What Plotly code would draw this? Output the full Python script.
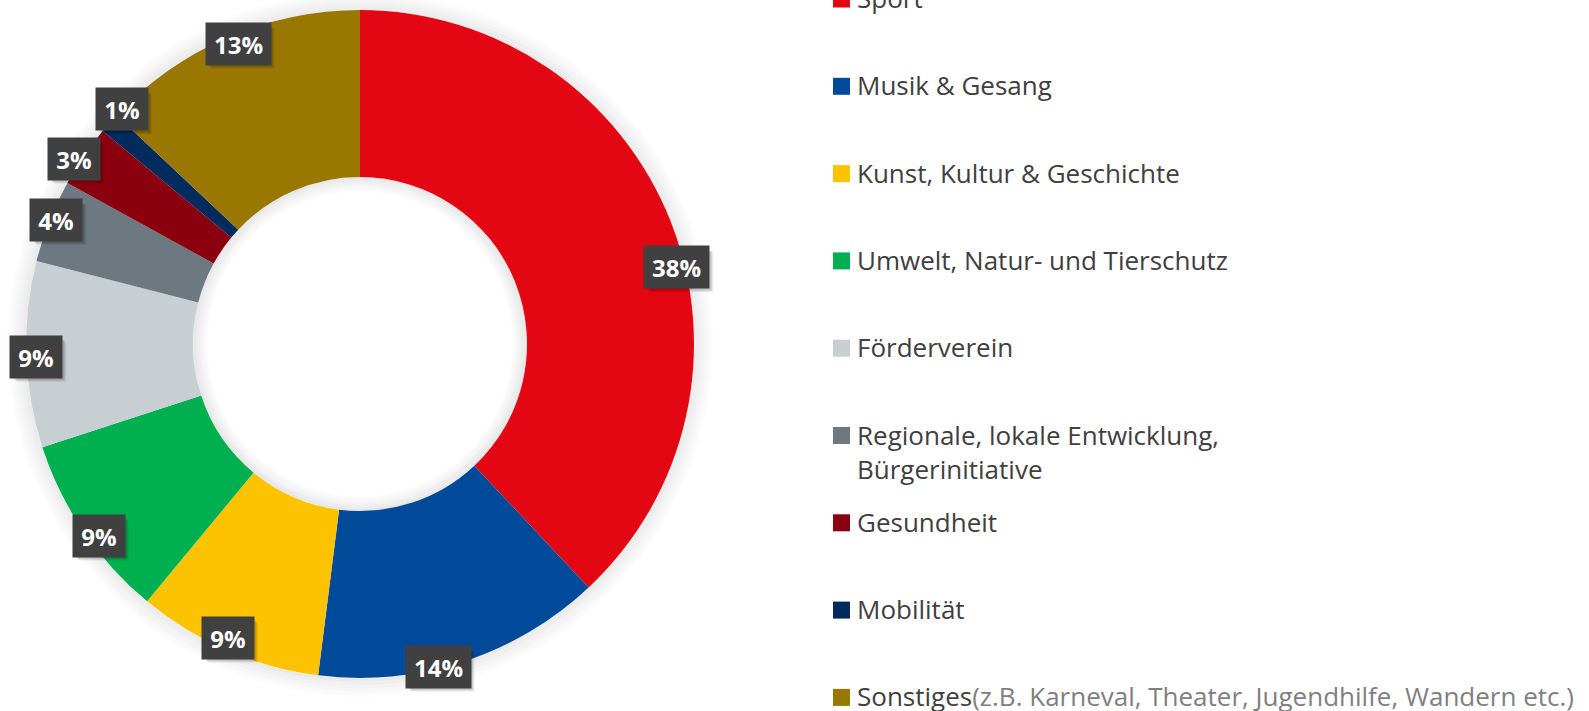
import math
import plotly.graph_objects as go

# ---------------- data ----------------
categories = ["Sport", "Musik & Gesang", "Kunst, Kultur & Geschichte",
              "Umwelt, Natur- und Tierschutz", "Förderverein",
              "Regionale, lokale Entwicklung, Bürgerinitiative",
              "Gesundheit", "Mobilität", "Sonstiges"]
legend_labels = ["Sport", "Musik & Gesang", "Kunst, Kultur & Geschichte",
                 "Umwelt, Natur- und Tierschutz", "Förderverein",
                 "Regionale, lokale Entwicklung,<br>Bürgerinitiative",
                 "Gesundheit", "Mobilität",
                 "Sonstiges<span style='color:#7f7f7f'>(z.B. Karneval, Theater, Jugendhilfe, Wandern etc.)</span>"]
values = [38, 14, 9, 9, 9, 4, 3, 1, 13]
colors = ["#E30613", "#004A99", "#FDC300", "#00B050", "#C8CFD3",
          "#6D7880", "#8B000E", "#002B5C", "#9A7700"]

# label placement tweaks (styling only): angular nudge in degrees, radius factor
label_nudge = [8, 4.4, 0.8, -2.1, -0.5, 0.6, -1.3, 3.2, 1.3]
label_radius = [0.976, 0.994, 0.964, 0.970, 0.970, 0.982, 1.021, 1.0, 0.970]

# ---------------- geometry ----------------
W, H = 1589, 711
PH = 668
CX, CY = 360, 344            # pixel coordinates of ring centre
MT = CY - PH // 2
MB = H - MT - PH
R = PH / 2
HOLE = 0.5


def paper(x, y):
    """pixel -> paper coords"""
    return x / W, (H - MB - y) / PH


fig = go.Figure()
fig.add_trace(go.Pie(
    labels=categories, values=values, hole=HOLE, sort=False,
    direction="clockwise", rotation=0, textinfo="none",
    marker=dict(colors=colors, line=dict(width=0)),
    showlegend=False, hoverinfo="label+percent",
    domain=dict(x=[0, 2 * CX / W], y=[0, 1]),
))

shapes = []


def ring(r, width, color):
    x0, y1 = paper(CX - r, CY - r)
    x1, y0 = paper(CX + r, CY + r)
    return dict(type="circle", xref="paper", yref="paper",
                x0=x0, x1=x1, y0=y0, y1=y1, layer="below",
                fillcolor="rgba(0,0,0,0)", line=dict(width=width, color=color))


# soft glow outside the ring
for k in range(0, 13):
    shapes.append(ring(R + 0.75 + k * 1.5, 1.6,
                       "rgba(0,0,0,%.3f)" % (0.08 * (1 - k / 13))))
# soft shadow inside the hole
rh = R * HOLE
for k in range(0, 10):
    shapes.append(ring(rh - 0.75 - k * 1.5, 1.6,
                       "rgba(0,0,0,%.3f)" % (0.09 * (1 - k / 10))))

annotations = []
total = sum(values)
cum = 0
for v, nud, rf in zip(values, label_nudge, label_radius):
    mid = (cum + v / 2) / total * 360 + nud
    cum += v
    rl = R * rf
    lx = CX + rl * math.sin(math.radians(mid))
    ly = CY - rl * math.cos(math.radians(mid))
    txt = "%d%%" % round(v / total * 100)
    w = 24 + 13 * len(txt)
    # drop shadow of the label box
    for d, a in ((5, 0.06), (4, 0.08), (3, 0.10)):
        x0, y1 = paper(lx - w / 2 + d, ly - 20 + d)
        x1, y0 = paper(lx + w / 2 + d, ly + 20 + d)
        shapes.append(dict(type="rect", xref="paper", yref="paper",
                           x0=x0, x1=x1, y0=y0, y1=y1, layer="above",
                           fillcolor="rgba(0,0,0,%.2f)" % a, line=dict(width=0)))
    ax, ay = paper(lx, ly)
    annotations.append(dict(x=ax, y=ay, xref="paper", yref="paper",
                            xanchor="center", yanchor="middle",
                            text="<b>%s</b>" % txt, showarrow=False,
                            width=w, height=40, bgcolor="#404040",
                            font=dict(family="Open Sans", size=24, color="white")))

# legend (manual, fixed spacing)
LEG_Y0, LEG_STEP = -1, 87.3
for i, (lab, col) in enumerate(zip(legend_labels, colors)):
    yc = LEG_Y0 + LEG_STEP * i
    x0, y1 = paper(833, yc - 8.5)
    x1, y0 = paper(850, yc + 8.5)
    shapes.append(dict(type="rect", xref="paper", yref="paper",
                       x0=x0, x1=x1, y0=y0, y1=y1,
                       fillcolor=col, line=dict(width=0)))
    tx, ty = paper(856, yc - 20)
    annotations.append(dict(x=tx, y=ty, xref="paper", yref="paper",
                            xanchor="left", yanchor="top", align="left",
                            text=lab, showarrow=False, borderpad=0,
                            font=dict(family="Open Sans", size=26, color="#404040")))

fig.update_layout(
    width=W, height=H,
    margin=dict(l=0, r=0, t=MT, b=MB),
    paper_bgcolor="white", plot_bgcolor="white",
    shapes=shapes, annotations=annotations,
    showlegend=False,
)

fig.write_html("out.html", config={"displayModeBar": False},
               post_script="document.body.style.margin='0px';")
